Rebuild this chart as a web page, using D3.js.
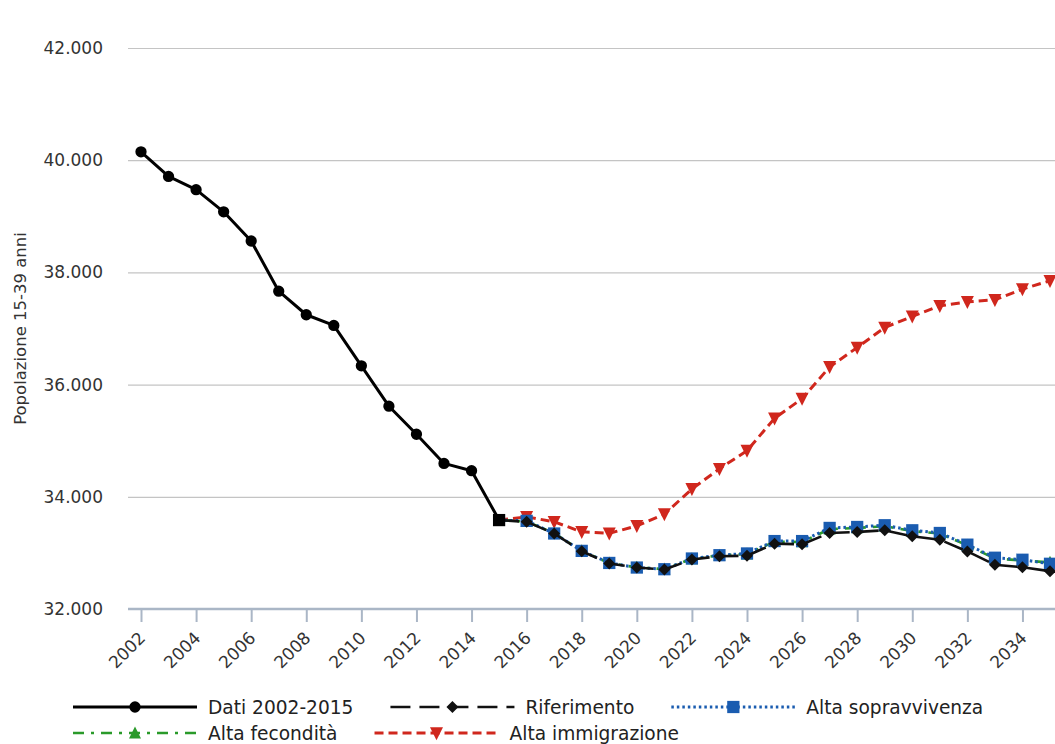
<!DOCTYPE html>
<html>
<head>
<meta charset="utf-8">
<script src="https://cdn.jsdelivr.net/npm/d3@7"></script>
<style>
  html, body { margin: 0; padding: 0; background: #fff; }
  svg { display: block; font-family: "DejaVu Sans", Verdana, sans-serif; }
</style>
</head>
<body>
<svg id="chart" width="1055" height="744"></svg>
<script>
// ---- data ----
const datiYears = [2002,2003,2004,2005,2006,2007,2008,2009,2010,2011,2012,2013,2014,2015];
const datiValues = [40150,39710,39475,39080,38560,37665,37245,37055,36335,35615,35115,34595,34465,33585];

const projYears = [2015,2016,2017,2018,2019,2020,2021,2022,2023,2024,2025,2026,2027,2028,2029,2030,2031,2032,2033,2034,2035];
const riferimento   = [33585,33554,33346,33030,32811,32739,32703,32882,32941,32950,33165,33152,33355,33373,33403,33296,33236,33027,32789,32746,32674];
const sopravvivenza = [33585,33571,33346,33036,32821,32739,32709,32900,32959,32990,33211,33211,33445,33462,33493,33403,33355,33147,32914,32878,32806];
const fecondita     = [33585,33560,33350,33035,32818,32742,32712,32895,32955,32980,33200,33195,33425,33445,33475,33390,33345,33135,32900,32865,32830];
const immigrazione  = [33585,33643,33554,33375,33350,33480,33690,34140,34500,34822,35398,35750,36315,36661,37018,37215,37404,37475,37511,37702,37851];

const xTickYears = [2002,2004,2006,2008,2010,2012,2014,2016,2018,2020,2022,2024,2026,2028,2030,2032,2034];
const yTicks = [32000,34000,36000,38000,40000,42000];
const yTitle = "Popolazione 15-39 anni";
const seriesNames = ["Dati 2002-2015","Riferimento","Alta sopravvivenza","Alta fecondità","Alta immigrazione"];

// ---- layout ----
const svg = d3.select("#chart");
const W = 1055, H = 744;
const plotLeft = 128, plotRight = 1100, plotTop = 48, plotBottom = 609;

const x = d3.scaleLinear().domain([2002, 2035]).range([141, 1050]);
const y = d3.scaleLinear().domain([32000, 42000]).range([plotBottom, plotTop]);

const it = d3.formatLocale({decimal: ",", thousands: ".", grouping: [3], currency: ["€",""]});
const fmt = it.format(",.0f");

svg.append("rect").attr("width", W).attr("height", H).attr("fill", "#fff");

// gridlines + y labels
const yAxis = d3.axisLeft(y).tickValues(yTicks).tickFormat(fmt).tickSize(-(plotRight - plotLeft)).tickPadding(25);
const gy = svg.append("g").attr("transform", `translate(${plotLeft},0)`).call(yAxis);
gy.select(".domain").remove();
gy.selectAll(".tick line").attr("stroke", "#c4c4c4").attr("stroke-width", 1.2);
gy.selectAll(".tick text").attr("fill", "#333").attr("font-size", "17px")
  .attr("font-family", "DejaVu Sans, sans-serif");

// x axis
const xAxis = d3.axisBottom(x).tickValues(xTickYears).tickFormat(d => String(d)).tickSize(13).tickSizeOuter(0);
const gx = svg.append("g").attr("transform", `translate(0,${plotBottom})`).call(xAxis);
gx.select(".domain").attr("d", `M${plotLeft},0H${plotRight}`).attr("stroke", "#aab6c6").attr("stroke-width", 2.5);
gx.selectAll(".tick line").attr("stroke", "#aab6c6").attr("stroke-width", 2);
gx.selectAll(".tick text")
  .attr("fill", "#333").attr("font-size", "17px").attr("font-family", "DejaVu Sans, sans-serif")
  .attr("text-anchor", "end").attr("dy", null).attr("y", null)
  .attr("transform", "translate(5,30) rotate(-45)");

// y axis title
svg.append("text")
  .attr("transform", `translate(26,${(plotTop + plotBottom) / 2}) rotate(-90)`)
  .attr("text-anchor", "middle").attr("fill", "#333").attr("font-size", "16.5px")
  .text(yTitle);

// ---- series ----
const line = d3.line().x(d => x(d.year)).y(d => y(d.value));
const zip = (yrs, vals) => yrs.map((yr, i) => ({year: yr, value: vals[i]}));

const styles = {
  dati:   {color: "#000",    width: 3,   dash: null},
  rif:    {color: "#111",    width: 2.6, dash: "20,9"},
  sopr:   {color: "#1a5cb0", width: 3,   dash: "2.5,3"},
  fec:    {color: "#2a9a2a", width: 2.6, dash: "11,7,3,7"},
  imm:    {color: "#d0271d", width: 3,   dash: "9,5"}
};

const sym = {
  circle: d3.symbol().type(d3.symbolCircle).size(100),
  square: d3.symbol().type(d3.symbolSquare).size(150)
};
const diamondPath = (s) => `M0,${-s/2}L${s/2},0L0,${s/2}L${-s/2},0Z`;
const triDownPath = (s) => `M${-s/2},${-s*0.45}L${s/2},${-s*0.45}L0,${s*0.55}Z`;
const triUpPath = (s) => `M${-s/2},${s*0.45}L${s/2},${s*0.45}L0,${-s*0.55}Z`;

function drawSeries(data, st, markerPath, markerFrom) {
  const g = svg.append("g");
  g.append("path").datum(data).attr("d", line).attr("fill", "none")
    .attr("stroke", st.color).attr("stroke-width", st.width)
    .attr("stroke-dasharray", st.dash).attr("stroke-linejoin", "round");
  g.selectAll("path.m").data(data.filter(d => d.year >= markerFrom)).enter().append("path")
    .attr("class", "m").attr("d", markerPath)
    .attr("transform", d => `translate(${x(d.year)},${y(d.value)})`)
    .attr("fill", st.color);
}

drawSeries(zip(projYears, immigrazione), styles.imm, triDownPath(13), 2016);
drawSeries(zip(projYears, fecondita), styles.fec, triUpPath(12), 2016);
drawSeries(zip(projYears, sopravvivenza), styles.sopr, sym.square(), 2016);
drawSeries(zip(projYears, riferimento), styles.rif, diamondPath(12), 2016);

// observed data
const datiData = zip(datiYears, datiValues);
const gd = svg.append("g");
gd.append("path").datum(datiData).attr("d", line).attr("fill", "none")
  .attr("stroke", "#000").attr("stroke-width", 3).attr("stroke-linejoin", "round");
gd.selectAll("path.m").data(datiData).enter().append("path").attr("class", "m")
  .attr("d", (d, i) => i === datiData.length - 1 ? sym.square() : sym.circle())
  .attr("transform", d => `translate(${x(d.year)},${y(d.value)})`)
  .attr("fill", "#000");

// ---- legend ----
const legendItems = [
  {name: seriesNames[0], st: styles.dati, marker: sym.circle(), row: 0},
  {name: seriesNames[1], st: styles.rif, marker: diamondPath(12), row: 0},
  {name: seriesNames[2], st: styles.sopr, marker: sym.square(), row: 0},
  {name: seriesNames[3], st: styles.fec, marker: triUpPath(12), row: 1},
  {name: seriesNames[4], st: styles.imm, marker: triDownPath(13), row: 1}
];
const rowY = [707, 733];
const symW = 124, startX = 73, gapText = 11, gapItem = 37;
const cursor = [startX, startX];
legendItems.forEach(item => {
  const lx = cursor[item.row], ly = rowY[item.row];
  const g = svg.append("g").attr("transform", `translate(${lx},${ly})`);
  g.append("line").attr("x1", 0).attr("x2", symW).attr("y1", 0).attr("y2", 0)
    .attr("stroke", item.st.color).attr("stroke-width", item.st.width)
    .attr("stroke-dasharray", item.st.dash);
  g.append("path").attr("d", item.marker).attr("transform", `translate(${symW/2},0)`).attr("fill", item.st.color);
  const t = g.append("text").attr("x", symW + gapText).attr("y", 6.5)
    .attr("fill", "#222").attr("font-size", "18.6px").text(item.name);
  const tw = t.node().getComputedTextLength();
  cursor[item.row] = lx + symW + gapText + tw + gapItem;
});
</script>
</body>
</html>
